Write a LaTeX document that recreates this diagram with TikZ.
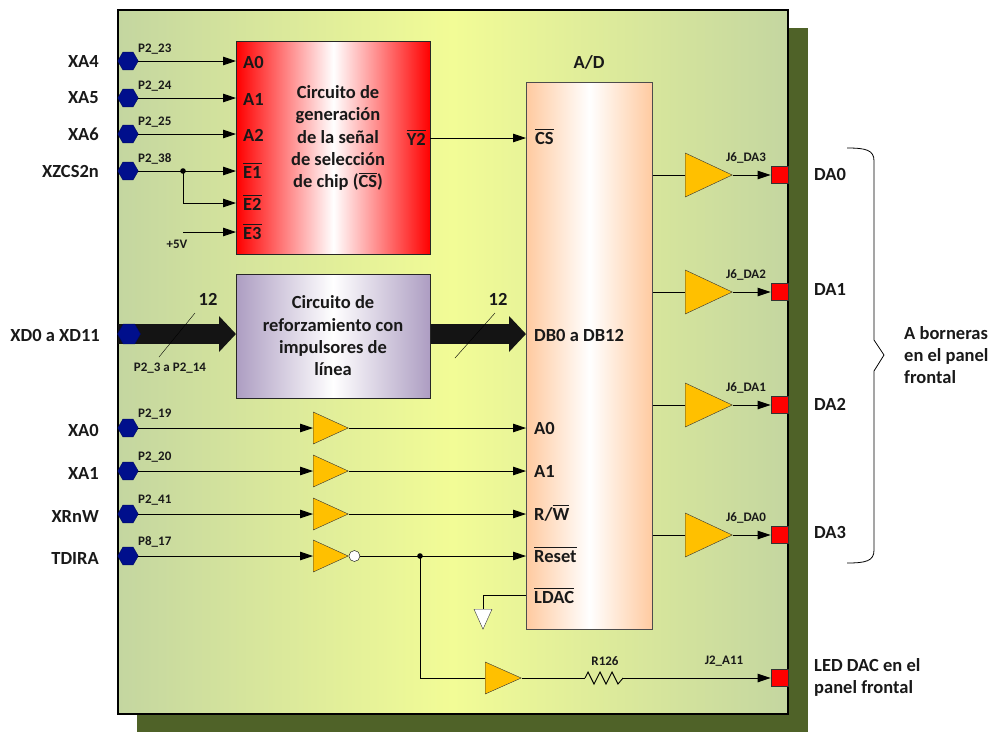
\documentclass[tikz,border=0pt]{standalone}
\usepackage{fontspec}
\setmainfont{Carlito}
\usetikzlibrary{arrows.meta,shapes.geometric}
\definecolor{sombra}{HTML}{4F6228}
\definecolor{panelbase}{HTML}{C4D6A0}
\definecolor{panelluz}{HTML}{F2FC96}
\definecolor{hexazul}{HTML}{000F8C}
\definecolor{ambar}{HTML}{FFC000}
\definecolor{lila}{HTML}{AD9DC2}
\definecolor{durazno}{HTML}{FFCAA0}
\newsavebox{\cajabarra}
\newcommand{\barra}[1]{\sbox{\cajabarra}{#1}\rlap{\rule[0.76em]{\wd\cajabarra}{0.9pt}}\usebox{\cajabarra}}
\tikzset{
  texto/.style={font=\bfseries\fontsize{18.5}{22.3}\selectfont,inner sep=0pt,text=black!90},
  textochico/.style={font=\bfseries\fontsize{13}{15}\selectfont,inner sep=0pt,text=black!90},
  hilo/.style={line width=0.9pt},
  flecha/.style={hilo,-{Triangle[length=13pt,width=8.5pt]}},
  bus/.style={line width=20pt,color=black!92,-{Triangle[length=17pt,width=35pt]}},
  hexpin/.style={regular polygon,regular polygon sides=6,draw=hexazul!70!black,fill=hexazul,minimum size=20.5pt,inner sep=0pt},
  buffer/.style={isosceles triangle,isosceles triangle stretches,shape border rotate=0,draw=black!80,fill=ambar,inner sep=0pt,anchor=lower side,minimum width=#1},
  conector/.style={rectangle,draw=black!80,fill=red,inner sep=0pt,minimum size=17pt,anchor=east},
  bloque/.style={rectangle,draw=black!85,line width=0.8pt,inner sep=0pt,align=center,anchor=north west}
}
\begin{document}
\begin{tikzpicture}[x=1pt,y=-1pt]
  \useasboundingbox (0,0) rectangle (995,732);
  % panel y sombra
  \fill[sombra] (137,28) rectangle (808,732);
  \draw[black,line width=1.5pt,left color=panelbase,right color=panelbase,middle color=panelluz] (118,10) rectangle (788,714);

  % bloques
  \node[bloque,minimum width=194pt,minimum height=213pt,left color=red,right color=red,middle color=white] (decod) at (236,41) {};
  \node[bloque,minimum width=194pt,minimum height=124pt,left color=lila,right color=lila,middle color=white] (refuerzo) at (236,274) {};
  \node[bloque,draw=black!70,minimum width=126pt,minimum height=547pt,left color=durazno,right color=durazno,middle color=white] (dac) at (526,82) {};
  \node[texto,align=center] (tdecod) at (338,138) {Circuito de\\generación\\de la señal\\de selección\\de chip (\barra{CS})};
  \node[texto,align=center] (trefuerzo) at (333,336) {Circuito de\\reforzamiento con\\impulsores de\\línea};
  \node[texto] (tad) at (589,62) {A/D};

  % entradas del decodificador
  \foreach \nom/\y/\sen/\pin/\ent in {xa4/61/XA4/P2\_23/A0,xa5/98/XA5/P2\_24/A1,xa6/134/XA6/P2\_25/A2,xzcs/171/XZCS2n/P2\_38/\barra{E1}}
  {
    \node[hexpin] (\nom) at (128,\y) {};
    \node[texto,anchor=east] (l\nom) at (99,\y) {\sen};
    \node[textochico,anchor=west] (p\nom) at (138,\y-12) {\pin};
    \node[texto,anchor=base west] (e\nom) at (243,\y+7) {\ent};
    \draw[flecha] (\nom) -- (\nom -| decod.west);
  }
  \node[texto,anchor=base west] (ee2) at (243,210) {\barra{E2}};
  \node[texto,anchor=base west] (ee3) at (243,239) {\barra{E3}};
  \node[textochico] (cinco) at (177,244) {+5V};
  \coordinate (union) at (183,171);
  \coordinate (ini5v) at (183,232);
  \coordinate (ent2) at (236,203);
  \fill (union) circle (2.8pt);
  \draw[flecha] (union) |- (ent2);
  \draw[flecha] (ini5v) -- (ini5v -| decod.west);
  % salida Y2
  \coordinate (liney2) at (430,138);
  \node[texto,anchor=base east] (ty2) at (426,145) {\barra{Y2}};
  \node[texto,anchor=base west] (tcs) at (535,144) {\barra{CS}};
  \draw[flecha] (liney2) -- (liney2 -| dac.west);

  % bus de datos
  \coordinate (inibus) at (118,334);
  \draw[bus] (inibus) -- (inibus -| refuerzo.west);
  \coordinate (salbus) at (refuerzo.east |- inibus);
  \draw[bus] (salbus) -- (salbus -| dac.west);
  \node[hexpin,minimum size=23pt] (xd) at (129,334) {};
  \node[texto,anchor=east] (lxd) at (100,335) {XD0 a XD11};
  \node[textochico] (pxd) at (170,368) {P2\_3 a P2\_14};
  \node[texto] (n1) at (208,299) {12};
  \node[texto] (n2) at (498,299) {12};
  \node[texto,anchor=west] (tdb) at (534,335) {DB0 a DB12};
  \draw[black,thin] (159,357) -- (195,313);
  \draw[black,thin] (455,358) -- (495,313);

  % entradas con impulsor
  \foreach \nom/\y/\sen/\pin/\ent in {xa0/428/XA0/P2\_19/A0,xa1/471/XA1/P2\_20/A1,xrw/514/XRnW/P2\_41/{R/\barra{W}},tdira/556/TDIRA/P8\_17/\barra{Reset}}
  {
    \node[hexpin] (\nom) at (128,\y) {};
    \node[texto,anchor=east] (l\nom) at (99,\y+2) {\sen};
    \node[textochico,anchor=west] (p\nom) at (138,\y-14) {\pin};
    \node[buffer=32pt,minimum height=35pt] (b\nom) at (313,\y) {};
    \node[texto,anchor=base west] (e\nom) at (534,\y+6) {\ent};
    \draw[flecha] (\nom) -- (b\nom.lower side);
  }
  \foreach \nom in {xa0,xa1,xrw}
    \draw[flecha] (b\nom.apex) -- (b\nom.apex -| dac.west);
  \node[circle,draw=black,fill=white,minimum size=11pt,inner sep=0pt,anchor=west] (negado) at (btdira.apex) {};
  \draw[flecha] (negado) -- (negado -| dac.west);

  % LDAC a tierra
  \node[texto,anchor=base west] (tldac) at (534,603) {\barra{LDAC}};
  \node[isosceles triangle,isosceles triangle stretches,shape border rotate=-90,draw=black!80,fill=white,inner sep=0pt,minimum width=18pt,minimum height=20pt,anchor=lower side] (tierra) at (483,609) {};
  \coordinate (sldac) at (526,595);
  \draw[hilo] (sldac) -| (tierra.lower side);

  % salidas analogicas
  \foreach \nom/\y/\jn/\sen/\ly in {da0/175/J6\_DA3/DA0/174,da1/292/J6\_DA2/DA1/289,da2/405/J6\_DA1/DA2/404,da3/535/J6\_DA0/DA3/532}
  {
    \node[buffer=44pt,minimum height=47pt] (b\nom) at (685,\y) {};
    \node[conector] (c\nom) at (788,\y) {};
    \node[textochico] (j\nom) at (746,\y-17) {\jn};
    \node[texto,anchor=west] (l\nom) at (814,\ly) {\sen};
    \draw[hilo] (dac.east |- b\nom.lower side) -- (b\nom.lower side);
    \draw[flecha] (b\nom.apex) -- (c\nom);
  }

  % LED
  \coordinate (ramal) at (420,556);
  \fill (ramal) circle (2.8pt);
  \node[buffer=32pt,minimum height=36pt] (bled) at (485,678) {};
  \node[conector] (cled) at (788,678) {};
  \coordinate (r1) at (585,678);
  \coordinate (r2) at (623,678);
  \draw[hilo] (ramal) |- (bled.lower side);
  \draw[hilo] (bled.apex) -- (r1);
  \draw[hilo] (r1) -- ++(3,-6) -- ++(6,12) -- ++(6,-12) -- ++(6,12) -- ++(6,-12) -- ++(6,12) -- (r2);
  \draw[flecha] (r2) -- (cled);
  \node[textochico] (tr) at (605,661) {R126};
  \node[textochico] (tj2) at (724,661) {J2\_A11};
  \node[texto,anchor=north west,align=left] (tled) at (814,658) {LED DAC en el\\panel frontal};

  % llave
  \draw[black,line width=0.8pt] (847,148) .. controls (866,148) and (874,150) .. (874,161) -- (874,340) -- (884,355) -- (874,371) -- (874,550) .. controls (874,561) and (866,563) .. (847,563);
  \node[texto,anchor=west,align=left] (tbor) at (904,355) {A borneras\\en el panel\\frontal};
\end{tikzpicture}
\end{document}
